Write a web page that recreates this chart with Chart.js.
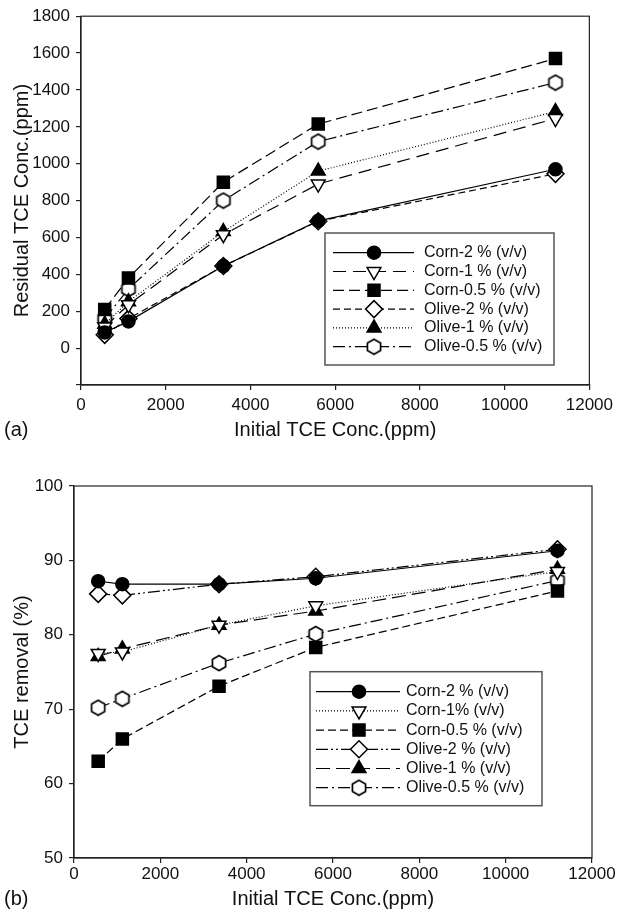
<!DOCTYPE html>
<html>
<head>
<meta charset="utf-8">
<script src="https://cdn.jsdelivr.net/npm/chart.js@4/dist/chart.umd.min.js"></script>
<style>
  body { margin: 0; background: #fff; width: 618px; height: 922px; overflow: hidden; }
  canvas { position: absolute; left: 0; }
</style>
</head>
<body>
<canvas id="chartA" width="618" height="460" style="top:0"></canvas>
<canvas id="chartB" width="618" height="462" style="top:460px"></canvas>
<script>
"use strict";

// initial TCE concentrations (ppm), shared by both panels
const concX = [560, 1120, 3360, 5600, 11200];

// panel (a): residual TCE (ppm)
const resCorn2   = [85, 145, 445, 690, 970];
const resCorn1   = [115, 235, 615, 890, 1245];
const resCorn05  = [210, 380, 900, 1215, 1570];
const resOlive2  = [72, 160, 445, 688, 945];
const resOlive1  = [130, 252, 632, 960, 1283];
const resOlive05 = [160, 320, 800, 1120, 1440];
const resLabels  = ['Corn-2 % (v/v)', 'Corn-1 % (v/v)', 'Corn-0.5 % (v/v)', 'Olive-2 % (v/v)', 'Olive-1 % (v/v)', 'Olive-0.5 % (v/v)'];

// panel (b): TCE removal (%)
const remCorn2   = [87.2, 86.8, 86.8, 87.6, 91.3];
const remCorn1   = [77.5, 77.7, 81.3, 83.9, 88.5];
const remCorn05  = [63.0, 66.0, 73.1, 78.3, 85.9];
const remOlive2  = [85.5, 85.3, 86.8, 87.8, 91.5];
const remOlive1  = [77.1, 78.1, 81.3, 83.2, 88.8];
const remOlive05 = [70.2, 71.4, 76.2, 80.1, 87.3];
const remLabels  = ['Corn-2 % (v/v)', 'Corn-1% (v/v)', 'Corn-0.5 % (v/v)', 'Olive-2 % (v/v)', 'Olive-1 % (v/v)', 'Olive-0.5 % (v/v)'];

const FONT = '"Liberation Sans", Arial, Helvetica, sans-serif';
Chart.defaults.font.family = FONT;
Chart.defaults.color = '#111';

// open hexagon marker
function hexagonMarker() {
  var c = document.createElement('canvas');
  c.width = 18; c.height = 18;
  var g = c.getContext('2d');
  g.beginPath();
  for (var k = 0; k < 6; k++) {
    var a = -Math.PI / 2 + k * Math.PI / 3;
    var px = 9 + 7.6 * Math.cos(a), py = 9 + 7.6 * Math.sin(a);
    if (k === 0) g.moveTo(px, py); else g.lineTo(px, py);
  }
  g.closePath();
  g.fillStyle = '#fff'; g.fill();
  g.lineWidth = 1.7; g.strokeStyle = '#000'; g.stroke();
  return c;
}
const hexImg = hexagonMarker();

const markers = {
  circle:  { pointStyle: 'circle',   pointRadius: 6.5, pointRotation: 0,   pointBackgroundColor: '#000' },
  triDown: { pointStyle: 'triangle', pointRadius: 8,   pointRotation: 180, pointBackgroundColor: '#fff' },
  square:  { pointStyle: 'rect',     pointRadius: 8.5, pointRotation: 0,   pointBackgroundColor: '#000' },
  diamond: { pointStyle: 'rectRot',  pointRadius: 8.5, pointRotation: 0,   pointBackgroundColor: '#fff' },
  triUp:   { pointStyle: 'triangle', pointRadius: 8,   pointRotation: 0,   pointBackgroundColor: '#000' },
  hexagon: { pointStyle: hexImg,     pointRadius: 8,   pointRotation: 0,   pointBackgroundColor: '#fff' }
};

function makeSet(label, values, marker, dash, width) {
  var m = markers[marker];
  return {
    label: label,
    data: concX.map(function (x, i) { return { x: x, y: values[i] }; }),
    showLine: true,
    borderColor: '#000',
    borderWidth: width || 1.2,
    borderDash: dash,
    pointStyle: m.pointStyle,
    pointRadius: m.pointRadius,
    pointHoverRadius: m.pointRadius,
    pointRotation: m.pointRotation,
    pointBackgroundColor: m.pointBackgroundColor,
    pointBorderColor: '#000',
    pointBorderWidth: 1.5
  };
}

// frame, panel letter and boxed legend
const framePlugin = {
  id: 'frame',
  afterDraw: function (chart, args, opts) {
    var ctx = chart.ctx, a = chart.chartArea;
    ctx.save();
    ctx.strokeStyle = '#222'; ctx.lineWidth = 1.2;
    ctx.strokeRect(a.left, a.top, a.right - a.left, a.bottom - a.top);
    ctx.fillStyle = '#111';
    ctx.font = '20px ' + FONT;
    ctx.textBaseline = 'middle';
    ctx.fillText(opts.letter, 4, opts.letterY);

    var L = opts.legend;
    ctx.fillStyle = '#fff';
    ctx.fillRect(L.x, L.y, L.w, L.h);
    ctx.strokeStyle = '#555'; ctx.lineWidth = 1.5;
    ctx.strokeRect(L.x, L.y, L.w, L.h);
    chart.data.datasets.forEach(function (ds, i) {
      var y = L.rowY + i * L.rowGap;
      ctx.strokeStyle = '#000'; ctx.lineWidth = ds.borderWidth;
      ctx.setLineDash(ds.borderDash || []);
      ctx.beginPath(); ctx.moveTo(L.lineX1, y); ctx.lineTo(L.lineX2, y); ctx.stroke();
      ctx.setLineDash([]);
      ctx.fillStyle = ds.pointBackgroundColor; ctx.strokeStyle = '#000';
      ctx.lineWidth = ds.pointBorderWidth;
      Chart.helpers.drawPoint(ctx, {
        pointStyle: ds.pointStyle, rotation: ds.pointRotation,
        radius: ds.pointRadius, borderWidth: ds.pointBorderWidth
      }, L.markX, y);
      ctx.fillStyle = '#111';
      ctx.font = '16px ' + FONT;
      ctx.textBaseline = 'middle';
      ctx.fillText(ds.label, L.textX, y);
    });
    ctx.restore();
  }
};

function axisOpts(min, max, step, yWidth, xHeight, xTickPad, xTitlePad, yTitle, hideMin) {
  return {
    x: {
      type: 'linear', min: 0, max: 12000,
      ticks: { stepSize: 2000, padding: xTickPad, font: { size: 17 }, color: '#111', maxRotation: 0,
               callback: function (v) { return String(v); } },
      grid: { drawOnChartArea: false, tickLength: 5, color: '#222', lineWidth: 1.2 },
      border: { color: '#222', width: 1.2 },
      title: { display: true, text: 'Initial TCE Conc.(ppm)', font: { size: 20 }, color: '#111', padding: { top: 0, bottom: xTitlePad } },
      afterFit: function (s) { s.height = xHeight; }
    },
    y: {
      min: min, max: max,
      ticks: {
        stepSize: step, padding: 6, font: { size: 17 }, color: '#111',
        callback: function (v) { return (hideMin && v === min) ? '' : String(v); }
      },
      grid: { drawOnChartArea: false, tickLength: 5, color: '#222', lineWidth: 1.2 },
      border: { color: '#222', width: 1.2 },
      title: { display: true, text: yTitle, font: { size: 20 }, color: '#111', padding: { top: 10, bottom: 0 } },
      afterFit: function (s) { s.width = yWidth; }
    }
  };
}

new Chart(document.getElementById('chartA').getContext('2d'), {
  type: 'scatter',
  data: {
    datasets: [
      makeSet(resLabels[0], resCorn2,   'circle',  []),
      makeSet(resLabels[1], resCorn1,   'triDown', [13, 7]),
      makeSet(resLabels[2], resCorn05,  'square',  [11, 5]),
      makeSet(resLabels[3], resOlive2,  'diamond', [7, 4]),
      makeSet(resLabels[4], resOlive1,  'triUp',   [1, 2]),
      makeSet(resLabels[5], resOlive05, 'hexagon', [12, 4, 2, 4])
    ]
  },
  options: {
    responsive: false,
    animation: false,
    layout: { padding: { top: 16, right: 26, left: 0, bottom: 0 } },
    scales: axisOpts(-200, 1800, 200, 81, 75, 5, 18, 'Residual TCE Conc.(ppm)', true),
    plugins: {
      legend: { display: false },
      tooltip: { enabled: false },
      frame: {
        letter: '(a)', letterY: 430,
        legend: { x: 325, y: 233, w: 229, h: 132, rowY: 252.7, rowGap: 18.8,
                  lineX1: 333, lineX2: 414, markX: 374, textX: 424 }
      }
    }
  },
  plugins: [framePlugin]
});

new Chart(document.getElementById('chartB').getContext('2d'), {
  type: 'scatter',
  data: {
    datasets: [
      makeSet(remLabels[0], remCorn2,   'circle',  []),
      makeSet(remLabels[1], remCorn1,   'triDown', [1, 2]),
      makeSet(remLabels[2], remCorn05,  'square',  [8, 4]),
      makeSet(remLabels[3], remOlive2,  'diamond', [12, 3, 2, 3, 2, 3]),
      makeSet(remLabels[4], remOlive1,  'triUp',   [14, 6]),
      makeSet(remLabels[5], remOlive05, 'hexagon', [12, 4, 2, 4])
    ]
  },
  options: {
    responsive: false,
    animation: false,
    layout: { padding: { top: 26, right: 26, left: 0, bottom: 0 } },
    scales: axisOpts(50, 100, 10, 74, 64, 1, 11, 'TCE removal (%)', false),
    plugins: {
      legend: { display: false },
      tooltip: { enabled: false },
      frame: {
        letter: '(b)', letterY: 439,
        legend: { x: 310, y: 211.7, w: 232, h: 134, rowY: 231.7, rowGap: 19.2,
                  lineX1: 316, lineX2: 400, markX: 359, textX: 406 }
      }
    }
  },
  plugins: [framePlugin]
});
</script>
</body>
</html>
